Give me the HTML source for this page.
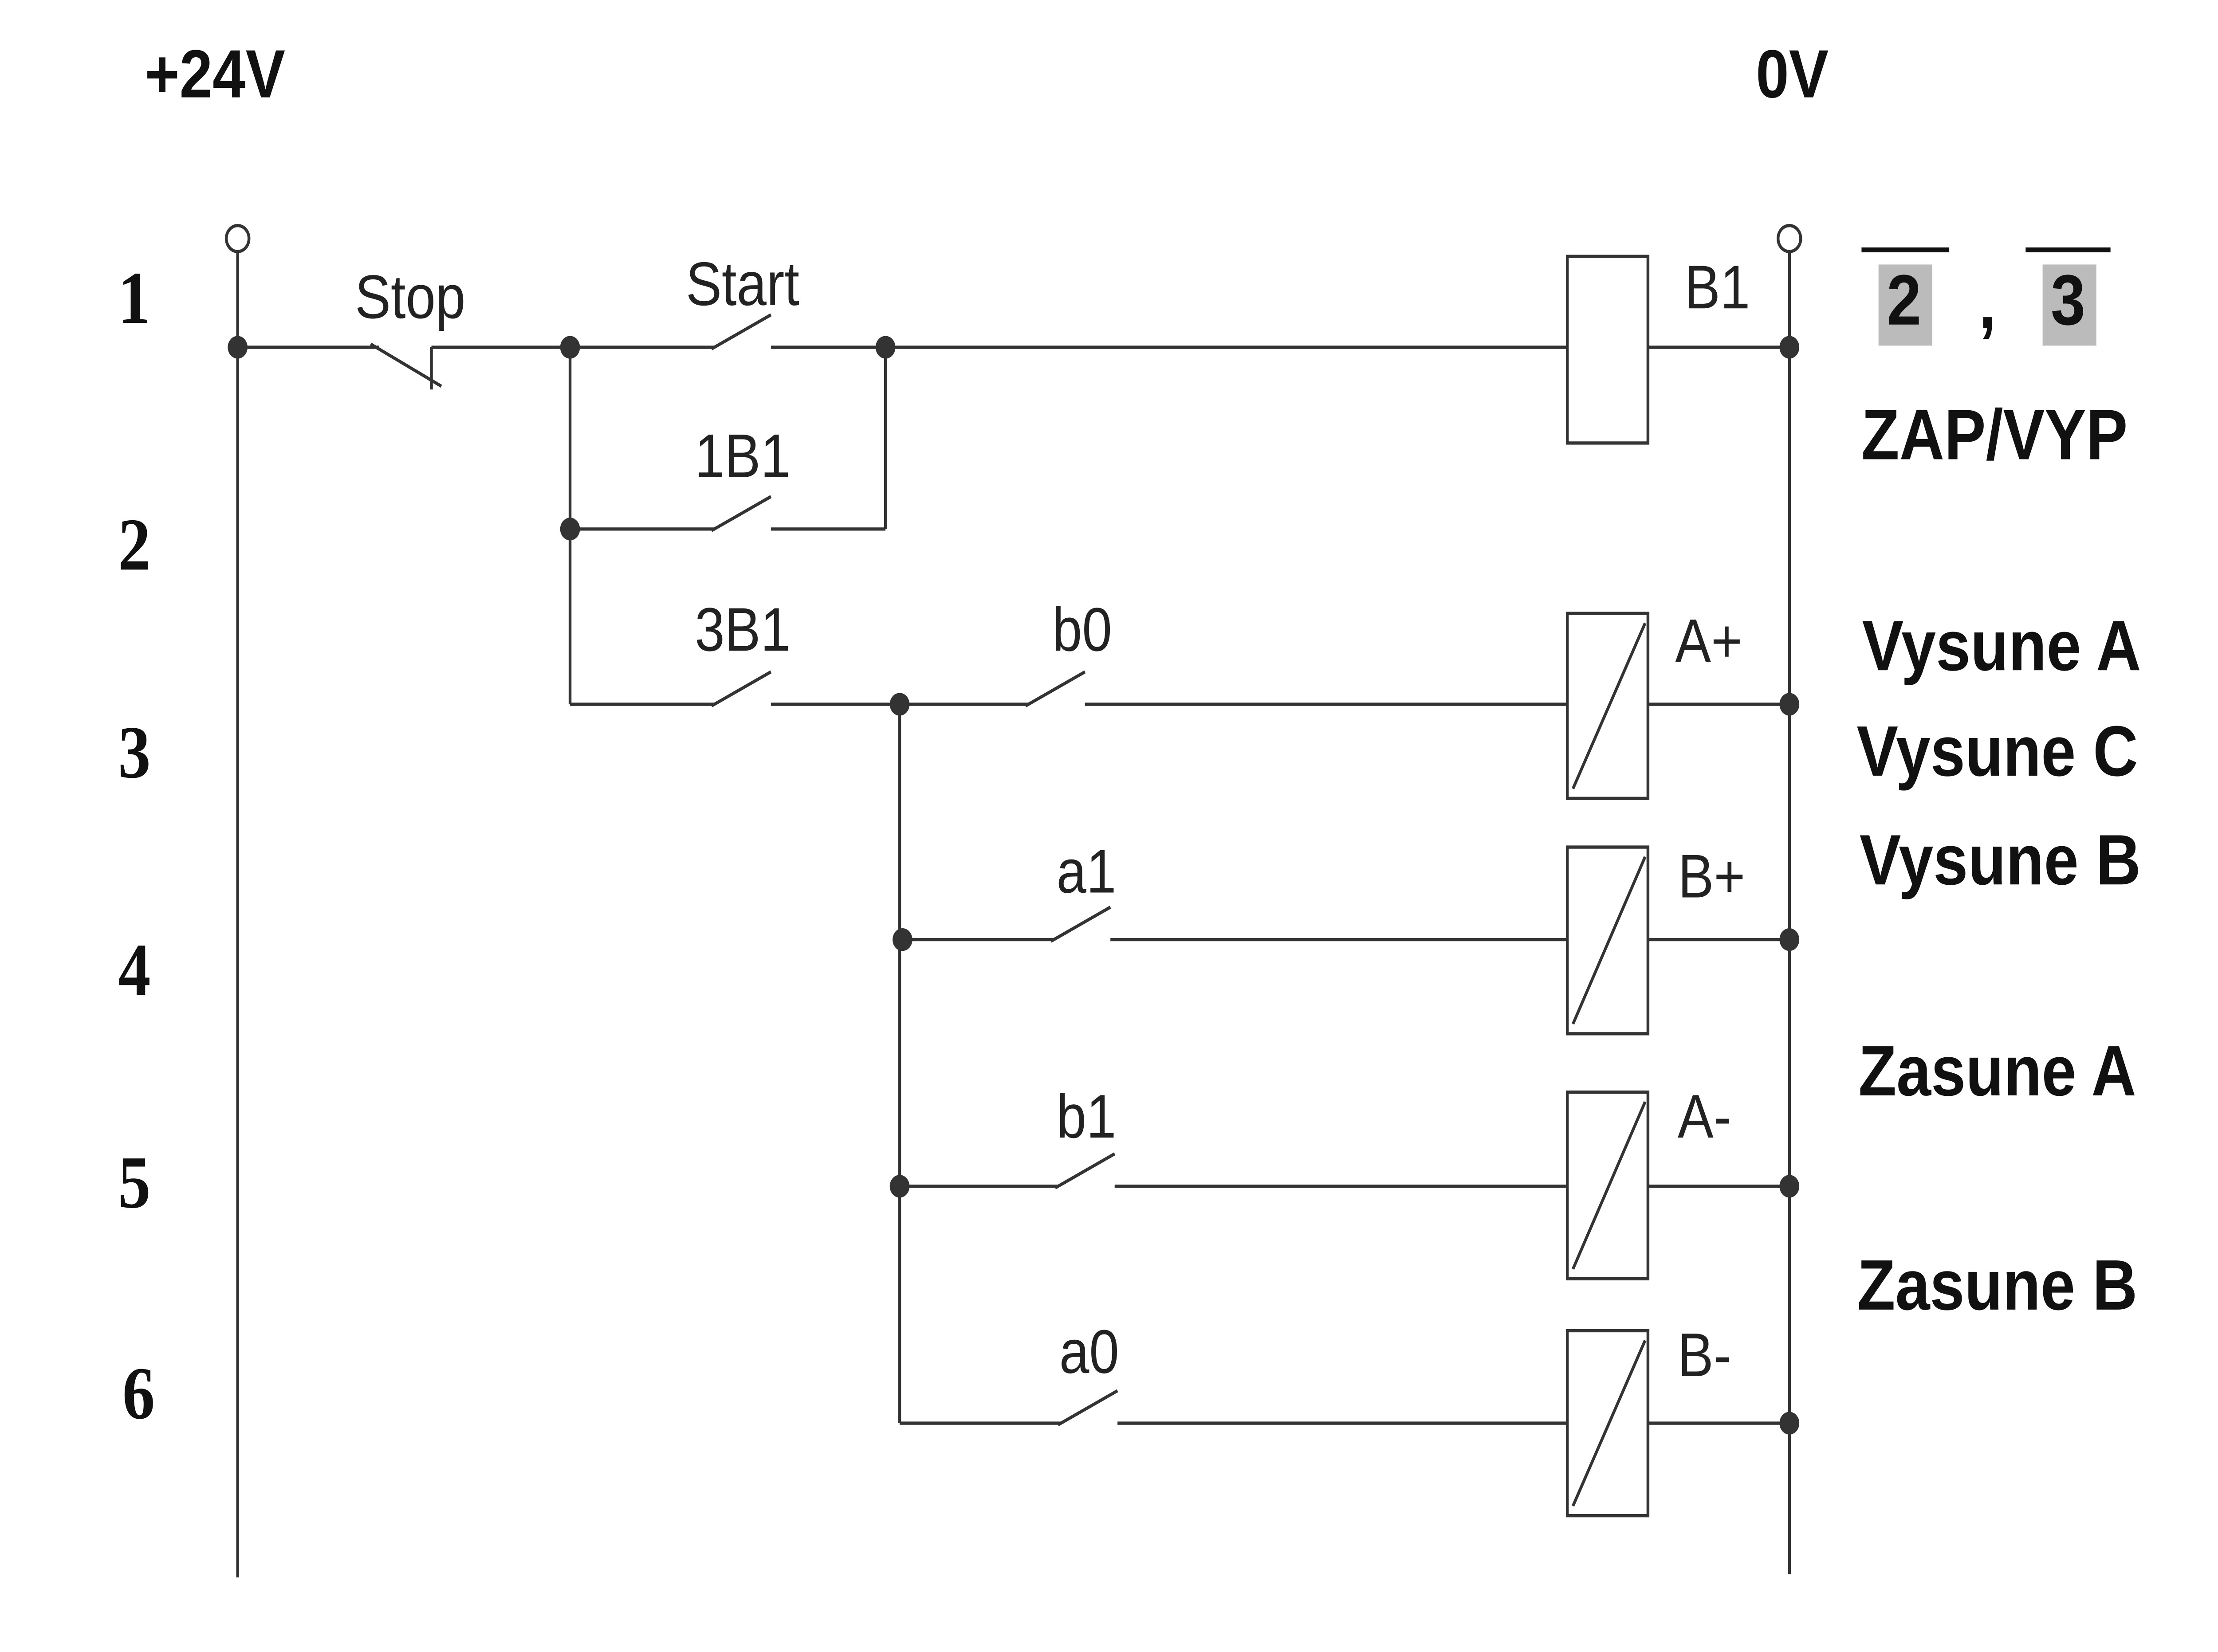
<!DOCTYPE html>
<html><head><meta charset="utf-8"><style>
html,body{margin:0;padding:0;background:#fff;width:100%;height:100%;overflow:hidden;}
svg{display:block;position:fixed;left:0;top:0;width:100vw;height:100vh;}
</style></head><body>
<svg viewBox="0 0 1568 1018" preserveAspectRatio="none" xmlns="http://www.w3.org/2000/svg">
<rect width="1568" height="1018" fill="#fff"/>
<g stroke="#333" stroke-width="2" fill="none">
<line x1="168" y1="155" x2="168" y2="972"/>
<circle cx="168" cy="147" r="8" fill="#fff"/>
<line x1="1265" y1="155" x2="1265" y2="970"/>
<circle cx="1265" cy="147" r="8" fill="#fff"/>
<line x1="168" y1="214" x2="268" y2="214"/>
<line x1="262" y1="212" x2="312" y2="238"/>
<line x1="305" y1="214" x2="305" y2="240"/>
<line x1="305" y1="214" x2="403" y2="214"/>
<line x1="403" y1="214" x2="505" y2="214"/>
<line x1="503" y1="215" x2="545" y2="194"/>
<line x1="545" y1="214" x2="1108" y2="214"/>
<rect x="1108" y="158" width="57" height="115"/>
<line x1="1165" y1="214" x2="1265" y2="214"/>
<line x1="403" y1="214" x2="403" y2="434"/>
<line x1="403" y1="326" x2="505" y2="326"/>
<line x1="503" y1="327" x2="545" y2="306"/>
<line x1="545" y1="326" x2="626" y2="326"/>
<line x1="626" y1="214" x2="626" y2="326"/>
<line x1="403" y1="434" x2="505" y2="434"/>
<line x1="503" y1="435" x2="545" y2="414"/>
<line x1="545" y1="434" x2="727" y2="434"/>
<line x1="725" y1="435" x2="767" y2="414"/>
<line x1="767" y1="434" x2="1108" y2="434"/>
<rect x="1108" y="378" width="57" height="114"/>
<line x1="1112" y1="486" x2="1163" y2="384"/>
<line x1="1165" y1="434" x2="1265" y2="434"/>
<line x1="636" y1="434" x2="636" y2="877"/>
<line x1="636" y1="579" x2="745" y2="579"/>
<line x1="743" y1="580" x2="785" y2="559"/>
<line x1="785" y1="579" x2="1108" y2="579"/>
<rect x="1108" y="522" width="57" height="115"/>
<line x1="1112" y1="631" x2="1163" y2="528"/>
<line x1="1165" y1="579" x2="1265" y2="579"/>
<line x1="636" y1="731" x2="748" y2="731"/>
<line x1="746" y1="732" x2="788" y2="711"/>
<line x1="788" y1="731" x2="1108" y2="731"/>
<rect x="1108" y="673" width="57" height="115"/>
<line x1="1112" y1="782" x2="1163" y2="679"/>
<line x1="1165" y1="731" x2="1265" y2="731"/>
<line x1="636" y1="877" x2="750" y2="877"/>
<line x1="748" y1="878" x2="790" y2="857"/>
<line x1="790" y1="877" x2="1108" y2="877"/>
<rect x="1108" y="820" width="57" height="114"/>
<line x1="1112" y1="928" x2="1163" y2="826"/>
<line x1="1165" y1="877" x2="1265" y2="877"/>
</g>
<g fill="#333">
<circle cx="168" cy="214" r="7"/>
<circle cx="403" cy="214" r="7"/>
<circle cx="626" cy="214" r="7"/>
<circle cx="1265" cy="214" r="7"/>
<circle cx="403" cy="326" r="7"/>
<circle cx="636" cy="434" r="7"/>
<circle cx="1265" cy="434" r="7"/>
<circle cx="638" cy="579" r="7"/>
<circle cx="1265" cy="579" r="7"/>
<circle cx="636" cy="731" r="7"/>
<circle cx="1265" cy="731" r="7"/>
<circle cx="1265" cy="877" r="7"/>
</g>
<g font-family="Liberation Sans, sans-serif" font-size="38" fill="#222" text-anchor="middle">
<text x="290" y="196">Stop</text>
<text x="525" y="188">Start</text>
<text x="1214" y="190">B1</text>
<text x="525" y="294">1B1</text>
<text x="525" y="401">3B1</text>
<text x="765" y="401">b0</text>
<text x="1208" y="408">A+</text>
<text x="768" y="550">a1</text>
<text x="1210" y="553">B+</text>
<text x="768" y="701">b1</text>
<text x="1205" y="701">A-</text>
<text x="770" y="846">a0</text>
<text x="1205" y="848">B-</text>
</g>
<g font-family="Liberation Serif, serif" font-weight="bold" font-size="46" fill="#111" text-anchor="middle">
<text x="95" y="199">1</text>
<text x="95" y="351">2</text>
<text x="95" y="479">3</text>
<text x="95" y="613">4</text>
<text x="95" y="744">5</text>
<text x="98" y="874">6</text>
</g>
<g font-family="Liberation Sans, sans-serif" font-weight="bold" font-size="42" fill="#111" text-anchor="middle">
<text x="152" y="60">+24V</text>
<text x="1267" y="60">0V</text>
</g>
<g font-family="Liberation Sans, sans-serif" font-weight="bold" font-size="44" fill="#111" text-anchor="middle">
<rect x="1328" y="163" width="38" height="50" fill="#bbb"/>
<rect x="1444" y="163" width="38" height="50" fill="#bbb"/>
<line x1="1316" y1="154" x2="1378" y2="154" stroke="#111" stroke-width="3"/>
<line x1="1432" y1="154" x2="1492" y2="154" stroke="#111" stroke-width="3"/>
<text x="1346" y="200">2</text>
<text x="1405" y="202">,</text>
<text x="1462" y="200">3</text>
<text x="1410" y="283">ZAP/VYP</text>
<text x="1415" y="413">Vysune A</text>
<text x="1412" y="478">Vysune C</text>
<text x="1414" y="545">Vysune B</text>
<text x="1412" y="675">Zasune A</text>
<text x="1412" y="807">Zasune B</text>
</g>
</svg>
</body></html>
